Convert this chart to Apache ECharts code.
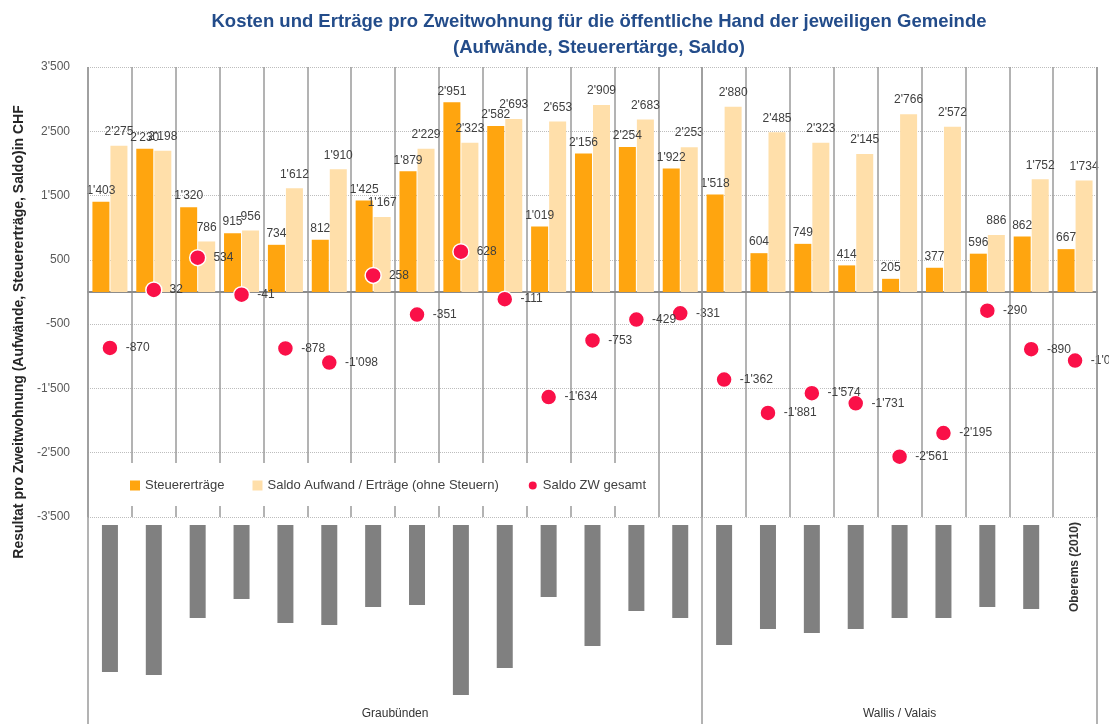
<!DOCTYPE html>
<html>
<head>
<meta charset="utf-8">
<script src="https://cdn.jsdelivr.net/npm/echarts@6/dist/echarts.min.js"></script>
<style>html,body{margin:0;padding:0;background:#fff;}#c{width:1109px;height:724px;}</style>
</head>
<body>
<div id="c"></div>
<script>
// ---- data ----
var municipalities = ['GR 1','GR 2','GR 3','GR 4','GR 5','GR 6','GR 7','GR 8','GR 9','GR 10','GR 11','GR 12','GR 13','GR 14',
  'VS 1','VS 2','VS 3','VS 4','VS 5','VS 6','VS 7','VS 8','Oberems (2010)'];
// length of the redacted (greyed-out) municipality names; null = name visible
var redactedLabelLength = [147,150,93,74,98,100,82,80,170,143,72,121,86,93, 120,104,108,104,93,93,82,84,null];
var steuerertraege = [1403,2230,1320,915,734,812,1425,1879,2951,2582,1019,2156,2254,1922, 1518,604,749,414,205,377,596,862,667];
var saldoAufwand = [2275,2198,786,956,1612,1910,1167,2229,2323,2693,2653,2909,2683,2253, 2880,2485,2323,2145,2766,2572,886,1752,1734];
var saldoZW = [-870,32,534,-41,-878,-1098,258,-351,628,-111,-1634,-753,-429,-331, -1362,-1881,-1574,-1731,-2561,-2195,-290,-890,-1067];
var groups = ['Graubünden','Wallis / Valais'];
var groupSizes = [14, 9];
var yTicks = {min:-3500, max:3500, interval:1000};

function fmt(v){ return String(v).replace(/\B(?=(\d{3})+(?!\d))/g, "'"); }

var FONT = 'Liberation Sans';
var chart = echarts.init(document.getElementById('c'), null, {renderer:'canvas'});

// group boundaries and areas
var bounds = [0]; groupSizes.forEach(function(s){ bounds.push(bounds[bounds.length-1]+s); });
var total = bounds[bounds.length-1];
var areas = groups.map(function(g,i){ return [{xAxis:bounds[i], name:g},{xAxis:bounds[i+1]}]; });
var lines = bounds.map(function(b){ return {xAxis:b}; });

var option = {
  animation:false,
  textStyle:{fontFamily:FONT},
  title:{
    text:'Kosten und Erträge pro Zweitwohnung für die öffentliche Hand der jeweiligen Gemeinde\n(Aufwände, Steuerertärge, Saldo)',
    left:594, top:4, textAlign:'center',
    textStyle:{fontFamily:FONT, fontSize:18.5, fontWeight:'bold', color:'#234C8A', lineHeight:26}
  },
  legend:{
    data:[{name:'Steuererträge', icon:'rect'},{name:'Saldo Aufwand / Erträge (ohne Steuern)', icon:'rect'},{name:'Saldo ZW gesamt', icon:'circle'}],
    left:122, top:463, itemWidth:10, itemHeight:10, itemGap:28,
    padding:[16,10,14,8], backgroundColor:'#fff',
    textStyle:{fontFamily:FONT, fontSize:13, color:'#404040'}
  },
  grid:[
    {left:88, right:12, top:67, height:450},
    {left:88, right:12, top:517, bottom:0},
    {left:88, right:12, top:67, bottom:0}
  ],
  xAxis:[
    {type:'category', gridIndex:0, data:municipalities,
      axisLine:{show:true, onZero:true, lineStyle:{color:'#8c8c8c', width:2}},
      axisTick:{show:false}, axisLabel:{show:false, interval:0},
      splitLine:{show:true, interval:0, lineStyle:{color:'#9a9a9a', width:1.5}}},
    {type:'category', gridIndex:1, data:municipalities, position:'top',
      axisLine:{show:false}, axisTick:{show:false},
      axisLabel:{show:true, inside:true, rotate:90, interval:0, margin:5,
        fontFamily:FONT, fontSize:12, fontWeight:'bold', color:'#333',
        formatter:function(v,i){ return redactedLabelLength[i]==null ? v : ''; }},
      splitLine:{show:false}},
    {type:'value', gridIndex:2, min:0, max:total, show:false}
  ],
  yAxis:[
    {type:'value', gridIndex:0, min:yTicks.min, max:yTicks.max, interval:yTicks.interval,
      axisLine:{show:false}, axisTick:{show:false},
      axisLabel:{formatter:fmt, color:'#595959', fontSize:12, margin:18, fontFamily:FONT},
      splitLine:{show:true, lineStyle:{color:'#bdbdbd', type:'dotted', width:1}},
      name:'Resultat pro Zweitwohnung (Aufwände, Steuererträge, Saldo)in CHF',
      nameLocation:'middle', nameGap:62,
      nameTextStyle:{fontFamily:FONT, fontSize:14, fontWeight:'bold', color:'#262626', padding:[0,80,0,0]}},
    {type:'value', gridIndex:1, inverse:true, min:-8, max:199, show:false},
    {type:'value', gridIndex:2, min:0, max:1, show:false}
  ],
  series:[
    {name:'Steuererträge', type:'bar', xAxisIndex:0, yAxisIndex:0, data:steuerertraege,
      barWidth:17, barGap:'6%', itemStyle:{color:'#FFA50F'},
      label:{show:true, position:'top', distance:5, formatter:function(p){return fmt(p.value);}, color:'#404040', fontSize:12, fontFamily:FONT}},
    {name:'Saldo Aufwand / Erträge (ohne Steuern)', type:'bar', xAxisIndex:0, yAxisIndex:0, data:saldoAufwand,
      barWidth:17, barGap:'6%', itemStyle:{color:'#FFDFAA'},
      label:{show:true, position:'top', distance:8, formatter:function(p){return fmt(p.value);}, color:'#404040', fontSize:12, fontFamily:FONT}},
    {name:'Saldo ZW gesamt', type:'scatter', xAxisIndex:0, yAxisIndex:0, data:saldoZW, z:5,
      symbolSize:16, itemStyle:{color:'#FA1048', opacity:1, borderColor:'#fff', borderWidth:1.5},
      label:{show:true, position:'right', distance:7, formatter:function(p){return fmt(p.value);}, color:'#404040', fontSize:12, fontFamily:FONT}},
    {name:'labels', type:'bar', xAxisIndex:1, yAxisIndex:1, data:redactedLabelLength,
      barWidth:16, itemStyle:{color:'#808080'}, silent:true},
    {name:'frame', type:'line', xAxisIndex:2, yAxisIndex:2, data:[], silent:true,
      markLine:{silent:true, symbol:'none', label:{show:false}, z:6,
        lineStyle:{color:'#9a9a9a', width:1.5, type:'solid'}, data:lines},
      markArea:{silent:true, itemStyle:{color:'rgba(0,0,0,0)'},
        label:{show:true, position:'insideBottom', distance:4, color:'#333', fontSize:12, fontFamily:FONT},
        data:areas}}
  ]
};
chart.setOption(option);
</script>
</body>
</html>
